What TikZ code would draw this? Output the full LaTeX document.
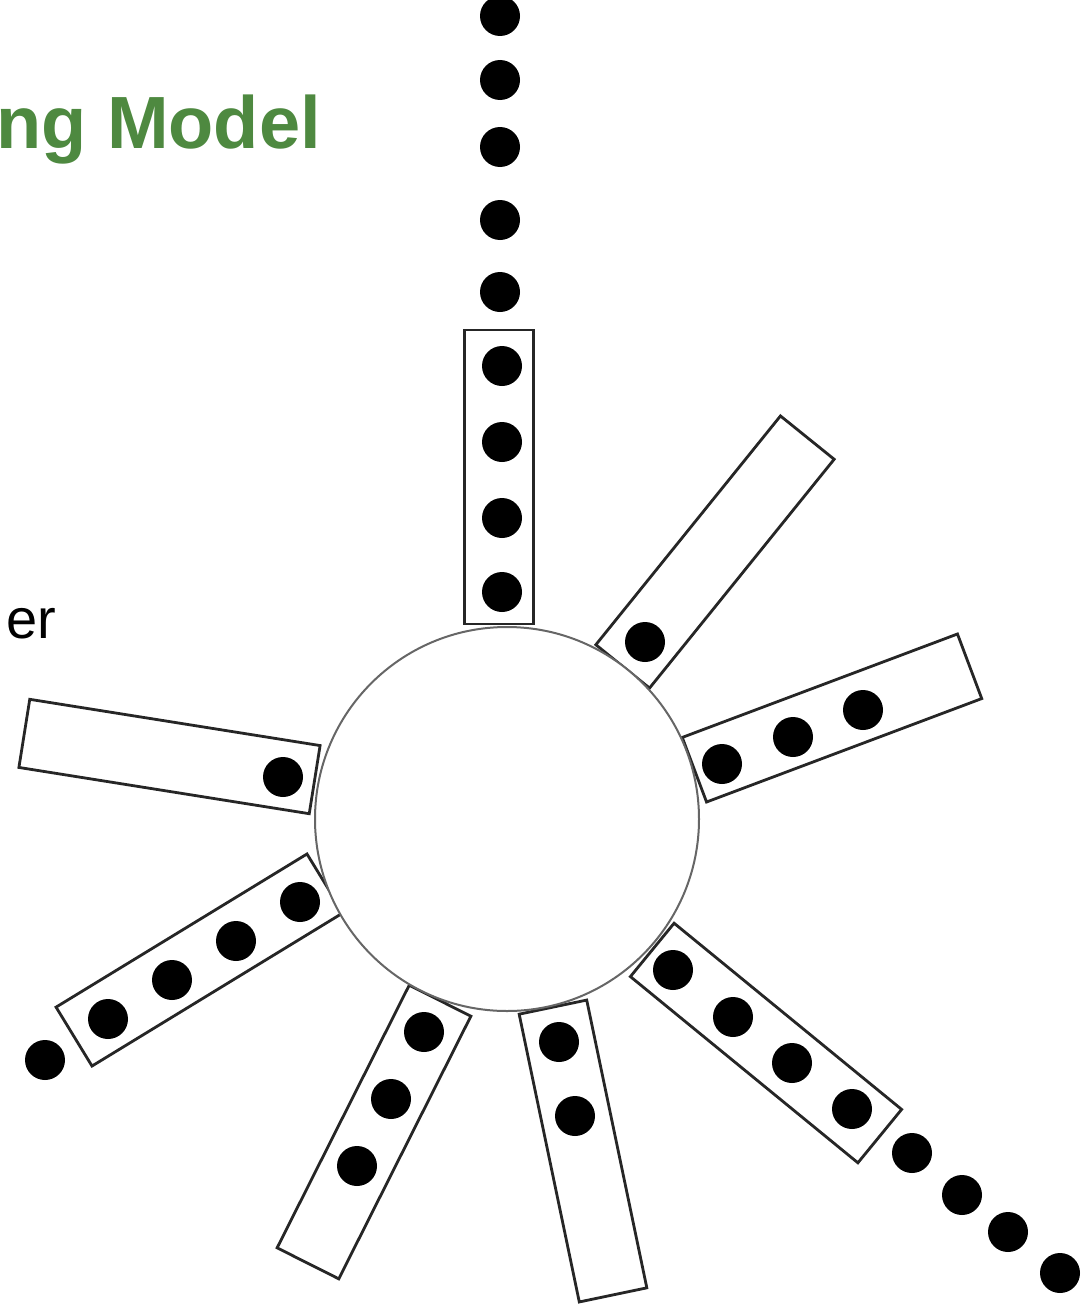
\documentclass[tikz,border=0pt]{standalone}
\usepackage{fontspec}
\setmainfont{Liberation Sans}
\definecolor{titlegreen}{RGB}{78,137,64}
\begin{document}
\begin{tikzpicture}[x=1pt,y=-1pt,
  arm/.style={shape=rectangle, draw=black!85, line width=2.8pt, fill=white, minimum width=294pt, minimum height=69pt, inner sep=0pt, outer sep=0pt},
  bead/.style={shape=circle, fill=black, minimum size=40pt, inner sep=0pt},
  core/.style={shape=circle, draw=black!60, line width=2pt, fill=white, minimum size=384pt, inner sep=0pt}]
\useasboundingbox (0,0) rectangle (1091,1306);
% texts
\node[anchor=base east, inner sep=0pt, text=titlegreen, font=\fontsize{74}{84}\selectfont\bfseries] (title) at (321,148) {ng Model};
\node[anchor=base east, inner sep=0pt, font=\fontsize{56}{64}\selectfont] (lbl) at (56,638) {er};
% arms
\node[arm, rotate=90]    (r1) at (499,477) {};
\node[arm, rotate=51.1]  (r2) at (715,552) {};
\node[arm, rotate=20.6]  (r3) at (832,718) {};
\node[arm, rotate=-9.05] (r4) at (169.5,756.5) {};
\node[arm, rotate=31.4]  (r5) at (199.5,960) {};
\node[arm, rotate=63.3]  (r6) at (374,1132) {};
\node[arm, rotate=-78.2] (r7) at (583,1151) {};
\node[arm, rotate=-39.3] (r8) at (766,1043) {};
% core
\node[core] (c) at (507,819) {};
% top chain
\node[bead] (t1) at (500,16) {};
\node[bead] (t2) at (500,80) {};
\node[bead] (t3) at (500,147) {};
\node[bead] (t4) at (500,220) {};
\node[bead] (t5) at (500,292) {};
% arm 1
\node[bead] (a1) at (502,366) {};
\node[bead] (a2) at (502,442) {};
\node[bead] (a3) at (502,518) {};
\node[bead] (a4) at (502,592) {};
% arm 2
\node[bead] (b1) at (645,642) {};
% arm 3
\node[bead] (e1) at (722,764) {};
\node[bead] (e2) at (793,737) {};
\node[bead] (e3) at (863,710) {};
% arm 4
\node[bead] (f1) at (283,777) {};
% arm 5
\node[bead] (g1) at (300,902) {};
\node[bead] (g2) at (236,941) {};
\node[bead] (g3) at (172,980) {};
\node[bead] (g4) at (108,1019) {};
\node[bead] (g5) at (45,1060) {};
% arm 6
\node[bead] (h1) at (424,1032) {};
\node[bead] (h2) at (391,1099) {};
\node[bead] (h3) at (357,1166) {};
% arm 7
\node[bead] (k1) at (559,1042) {};
\node[bead] (k2) at (575,1116) {};
% arm 8
\node[bead] (m1) at (673,970) {};
\node[bead] (m2) at (733,1017) {};
\node[bead] (m3) at (792,1063) {};
\node[bead] (m4) at (852,1109) {};
\node[bead] (m5) at (912,1153) {};
\node[bead] (m6) at (962,1195) {};
\node[bead] (m7) at (1008,1232) {};
\node[bead] (m8) at (1060,1273) {};
\end{tikzpicture}
\end{document}
